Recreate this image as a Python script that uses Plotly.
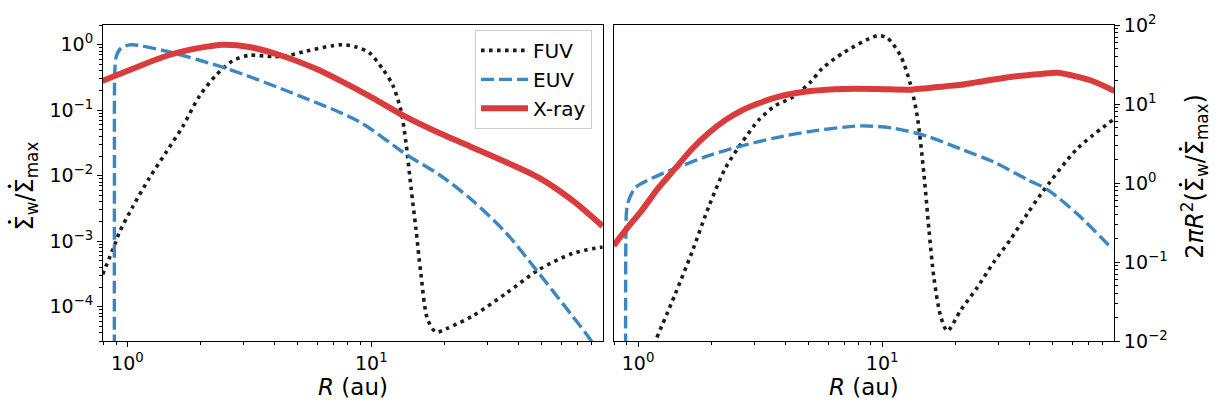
import numpy as np
import plotly.graph_objects as go
from plotly.subplots import make_subplots

# ---- left panel: normalised wind profiles  Σ̇w / Σ̇max ----
r_fuv_l = [0.792, 0.885, 0.927, 1.051, 1.231, 1.441, 1.685, 1.973, 2.309, 2.70, 3.16, 3.94,
           4.47, 5.40, 6.94, 7.63, 8.66, 9.81, 11.12, 12.23, 13.23, 13.87, 14.55, 15.25,
           15.98, 17.01, 18.42, 20.23, 26.0, 35.6, 48.8, 66.8, 88.7]
fuv_l = [3.13e-4, 8.65e-4, 1.36e-3, 3.35e-3, 9.25e-3, 0.0228, 0.0562, 0.164, 0.342, 0.568,
         0.689, 0.659, 0.673, 0.797, 0.967, 1.0, 0.925, 0.755, 0.429, 0.244, 0.099, 0.0319,
         6.6e-3, 1.52e-3, 3.13e-4, 6.44e-5, 4.1e-5, 4.59e-5, 7.2e-5, 1.59e-4, 3.71e-4,
         6.5e-4, 8.17e-4]

r_euv_l = [0.884, 0.885, 0.889, 0.901, 0.942, 1.035, 1.441, 2.538, 5.07, 8.93, 14.09, 19.0,
           26.0, 35.6, 47.3, 66.8, 79.4, 89.5]
euv_l = [1e-6, 0.01, 0.43, 0.667, 0.888, 1.0, 0.797, 0.436, 0.166, 0.0667, 0.0204, 0.01035,
         0.00419, 0.001356, 3.71e-4, 7.2e-5, 3.09e-5, 1.5e-5]

r_xray_l = [0.790, 1.051, 1.441, 1.973, 2.459, 3.16, 4.33, 5.93, 7.39, 10.12, 13.87, 19.0,
            26.0, 35.6, 48.8, 66.8, 88.7]
xray_l = [0.279, 0.429, 0.673, 0.894, 1.0, 0.925, 0.673, 0.429, 0.288, 0.155, 0.0789,
          0.0448, 0.027, 0.0162, 9.25e-3, 4.19e-3, 1.70e-3]

# ---- right panel: 2πR² (Σ̇w / Σ̇max) ----
r_fuv_r = [1.194, 1.42, 1.662, 1.945, 2.276, 2.66, 3.12, 3.65, 4.27, 5.09, 5.67, 6.97, 9.55,
           10.5, 11.9, 13.08, 13.94, 14.84, 15.55, 16.3, 17.38, 18.5, 21.0, 24.5, 28.7,
           33.6, 39.4, 44.7, 62.8, 87.9]
fuv_r = [0.0111, 0.0394, 0.133, 0.497, 1.53, 3.24, 6.25, 9.53, 12.05, 19.0, 28.0, 44.9, 73.0,
         68.4, 40.7, 17.5, 6.86, 1.27, 0.257, 0.0628, 0.0204, 0.0134, 0.0246, 0.0474, 0.1,
         0.194, 0.411, 0.72, 2.69, 6.25]

r_euv_r = [0.889, 0.891, 0.897, 0.914, 0.974, 1.139, 1.42, 1.945, 2.66, 3.65, 5.09, 8.17,
           11.17, 15.3, 21.0, 28.7, 39.4, 47.4, 62.8, 87.9]
euv_r = [0.005, 0.2, 0.45, 0.597, 0.871, 1.15, 1.53, 2.22, 2.95, 3.73, 4.50, 5.28, 4.93,
         3.91, 2.69, 1.84, 1.10, 0.83, 0.41, 0.146]

r_xray_r = [0.794, 0.914, 1.036, 1.213, 1.42, 1.662, 1.945, 2.276, 2.66, 3.12, 3.65, 4.27,
            5.09, 6.97, 9.55, 13.08, 17.9, 21.0, 24.5, 33.6, 44.7, 52.2, 62.8, 73.6, 89.6]
xray_r = [0.161, 0.282, 0.451, 0.871, 1.53, 2.69, 4.29, 6.25, 8.28, 10.2, 12.05, 13.5, 14.6,
          15.5, 15.5, 15.2, 16.7, 17.5, 18.9, 22.0, 24.0, 24.8, 22.2, 19.3, 14.6]

# ---- tick labels ----
x_tickvals = [1, 10]
x_ticktext = ["10<sup>0</sup>", "10<sup>1</sup>"]
yl_tickvals = [1e-4, 1e-3, 1e-2, 1e-1, 1]
yl_ticktext = ["10<sup>\u22124</sup>", "10<sup>\u22123</sup>", "10<sup>\u22122</sup>",
               "10<sup>\u22121</sup>", "10<sup>0</sup>"]
yr_tickvals = [1e-2, 1e-1, 1, 10, 100]
yr_ticktext = ["10<sup>\u22122</sup>", "10<sup>\u22121</sup>", "10<sup>0</sup>",
               "10<sup>1</sup>", "10<sup>2</sup>"]

left_title = "\u03a3<sub>w</sub>/\u03a3<sub>max</sub>"
right_title = "2<i>\u03c0R</i><sup>2</sup>(\u03a3<sub>w</sub>/\u03a3<sub>max</sub>)"

# ---- figure geometry (pixels) ----
W, H = 1222, 408
ML, MR, MT, MB = 103, 108, 15, 66
PW, PH = W - ML - MR, H - MT - MB


def px_x(x):
    return (x - ML) / PW


def px_y(y):
    return (H - MB - y) / PH


def minor_vals(lo_exp, hi_exp):
    return [m * 10.0 ** e for e in range(lo_exp, hi_exp) for m in range(2, 10)]


FONT = "DejaVu Sans"
C_FUV, C_EUV, C_XRAY = "#1c1c1c", "#3a87c4", "#da3c3e"

styles = {
    "FUV": dict(color=C_FUV, width=3.6, dash="3.6px,4.4px"),
    "EUV": dict(color=C_EUV, width=3.4, dash="13px,5px"),
    "X-ray": dict(color=C_XRAY, width=6),
}

fig = make_subplots(rows=1, cols=2, horizontal_spacing=0.01)

panels = [
    (1, [("FUV", r_fuv_l, fuv_l), ("EUV", r_euv_l, euv_l), ("X-ray", r_xray_l, xray_l)]),
    (2, [("FUV", r_fuv_r, fuv_r), ("EUV", r_euv_r, euv_r), ("X-ray", r_xray_r, xray_r)]),
]
for col, series in panels:
    for name, r, v in series:
        fig.add_trace(
            go.Scatter(x=r, y=v, mode="lines", name=name, legendgroup=name,
                       showlegend=(col == 1), line=dict(shape="spline", smoothing=0.8,
                                                        **styles[name]),
                       hoverinfo="skip"),
            row=1, col=col)

tickfont = dict(family=FONT, size=19, color="black")
titlefont = dict(family=FONT, size=23, color="black")
ytitlefont = dict(family=FONT, size=24, color="black")
common = dict(showline=True, linecolor="black", linewidth=1, mirror=True, showgrid=False,
              zeroline=False, ticks="outside", ticklen=5, tickwidth=1, tickcolor="black",
              tickfont=tickfont)

xminor = dict(tickmode="array", tickvals=minor_vals(-1, 2), ticks="outside", ticklen=3,
              tickwidth=0.8, tickcolor="black", showgrid=False)
for ax in ("xaxis", "xaxis2"):
    fig.layout[ax].update(type="log", range=[-0.1, 1.95], tickmode="array",
                          tickvals=x_tickvals, ticktext=x_ticktext, minor=xminor,
                          title=dict(text="<i>R</i> (au)", font=titlefont, standoff=6),
                          **common)

fig.layout.xaxis.domain = [0, 500 / PW]
fig.layout.xaxis2.domain = [(613.7 - ML) / PW, 1]

fig.layout.yaxis.update(
    type="log", range=[np.log10(3e-5), np.log10(2)], tickmode="array",
    tickvals=yl_tickvals, ticktext=yl_ticktext,
    minor=dict(tickmode="array", tickvals=minor_vals(-5, 1), ticks="outside", ticklen=3,
               tickwidth=0.8, tickcolor="black", showgrid=False),
    **common)

fig.layout.yaxis2.update(
    type="log", range=[-2, 2], side="right", tickmode="array",
    tickvals=yr_tickvals, ticktext=yr_ticktext,
    minor=dict(tickmode="array", tickvals=minor_vals(-2, 2), ticks="outside", ticklen=3,
               tickwidth=0.8, tickcolor="black", showgrid=False),
    **common)

# y-axis titles, rotated to read bottom-to-top
for text, cx, cy in [(left_title, 26, 182), (right_title, 1195, 172)]:
    fig.add_annotation(text=text, textangle=-90, xref="paper", yref="paper",
                       x=px_x(cx), y=px_y(cy), xanchor="center", yanchor="middle",
                       showarrow=False, font=ytitlefont)

# time-derivative dots over each Σ in the titles
for dx, dy in [(9.5, 218.8), (9.5, 181.8), (1180.5, 180.3), (1180.5, 143.3)]:
    fig.add_shape(type="circle", xref="paper", yref="paper",
                  xsizemode="pixel", ysizemode="pixel",
                  xanchor=px_x(dx), yanchor=px_y(dy), x0=-1.8, x1=1.8, y0=-1.8, y1=1.8,
                  fillcolor="black", line=dict(width=0))

fig.update_layout(
    width=W, height=H,
    margin=dict(l=ML, r=MR, t=MT, b=MB),
    paper_bgcolor="white", plot_bgcolor="white",
    font=dict(family=FONT, color="black"),
    legend=dict(x=px_x(592), y=px_y(20), xanchor="right", yanchor="top",
                bgcolor="rgba(255,255,255,0.8)", bordercolor="#cccccc", borderwidth=1,
                font=dict(family=FONT, size=20), itemwidth=47, tracegroupgap=0),
)

fig.write_html("out.html")
